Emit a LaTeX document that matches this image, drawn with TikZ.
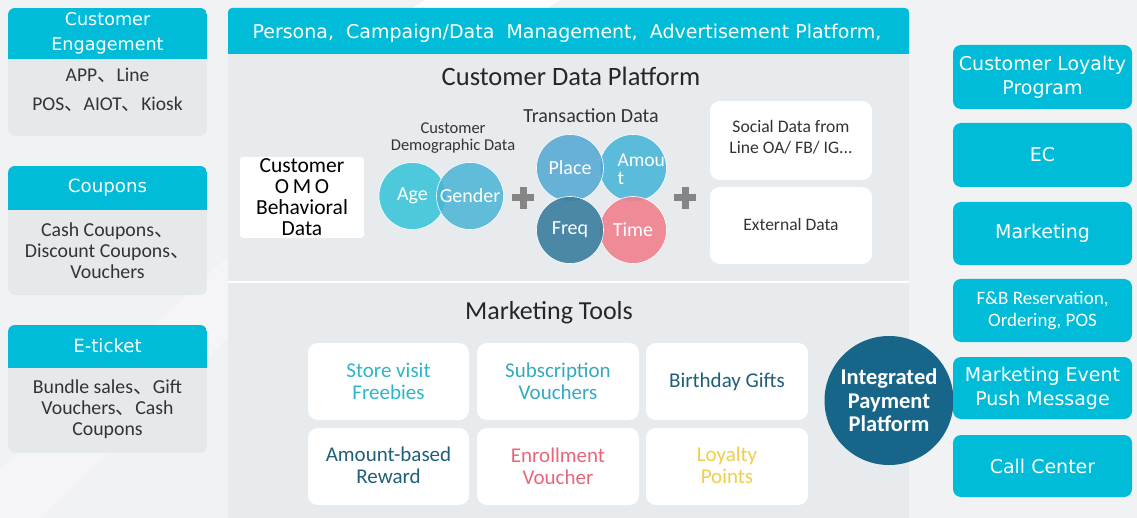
\documentclass[tikz,border=0pt]{standalone}
\usepackage{fontspec}
\setmainfont{Carlito}
\newfontfamily\dv{DejaVu Sans}
\newfontfamily\cjk{Noto Sans CJK SC}
\newcommand\dun{{\cjk 、}}
\newcommand\fsz[2]{\fontsize{#1}{#2}\selectfont}
\definecolor{cyanH}{HTML}{00BCD8}
\definecolor{bodyG}{HTML}{E6E9EC}
\definecolor{bgG}{HTML}{F1F2F4}
\definecolor{panelG}{HTML}{E8EBEE}
\definecolor{darkT}{HTML}{1F5F7A}
\definecolor{ippC}{HTML}{17668A}
\definecolor{txtG}{HTML}{333333}
\definecolor{cAge}{HTML}{3EC6DA}
\definecolor{cGen}{HTML}{4AB4D6}
\definecolor{cPla}{HTML}{5AAAD4}
\definecolor{cAmo}{HTML}{4CB6D8}
\definecolor{cFre}{HTML}{3A7E9F}
\definecolor{cTim}{HTML}{F0808E}
\definecolor{plusG}{HTML}{858585}
\definecolor{tCyan}{HTML}{2DB6C9}
\definecolor{tCyan2}{HTML}{35A8C2}
\definecolor{tPink}{HTML}{E8667A}
\definecolor{tYel}{HTML}{F0CE48}
\begin{document}
\begin{tikzpicture}[x=1pt,y=-1pt,
  lhead/.style={text=white,font=\dv\fsz{18.2}{25},align=center},
  lbody/.style={text=txtG,font=\fsz{19.8}{21},align=center},
  rbox/.style={fill=cyanH,rounded corners=8pt},
  rtext/.style={text=white,font=\dv\fsz{19}{24},align=center},
  wbox/.style={fill=white,rounded corners=10pt},
  circ/.style={circle,draw=white,line width=0.6pt,minimum size=67pt,inner sep=0pt,text=white,font=\fsz{20}{19},fill opacity=0.9,text opacity=1},
  tool/.style={font=\fsz{21}{22},align=center}
]
\useasboundingbox (0,0) rectangle (1137,518);
\fill[bgG] (0,0) rectangle (1137,518);
\fill[white,opacity=0.9] (425,0) -- (560,0) -- (548,8) -- (413,8) -- cycle;
\fill[white,opacity=0.3] (235,250) -- (235,330) -- (40,518) -- (0,518) -- (0,470) -- cycle;

% ---------- left boxes ----------
\begin{scope}
\clip[rounded corners=7pt] (8,8) rectangle (207,136);
\fill[bodyG] (8,8) rectangle (207,136);
\fill[cyanH] (8,8) rectangle (207,59);
\end{scope}
\node[lhead,font=\dv\fsz{17.6}{25}] (ce) at (107.5,33.5) {Customer\\Engagement};
\node[lbody,font=\fsz{19.5}{29}] (ceb) at (107.5,89.5) {APP\dun Line\\POS\dun AIOT\dun Kiosk};

\begin{scope}
\clip[rounded corners=7pt] (8,166) rectangle (207,295);
\fill[bodyG] (8,166) rectangle (207,295);
\fill[cyanH] (8,166) rectangle (207,210);
\end{scope}
\node[lhead] (cp) at (107.5,188) {Coupons};
\node[lbody] (cpb) at (107.5,251) {Cash Coupons\dun\\Discount Coupons\dun\\Vouchers};

\begin{scope}
\clip[rounded corners=7pt] (8,325) rectangle (207,453);
\fill[bodyG] (8,325) rectangle (207,453);
\fill[cyanH] (8,325) rectangle (207,368);
\end{scope}
\node[lhead] (et) at (107.5,346) {E-ticket};
\node[lbody] (etb) at (107.5,409.5) {Bundle sales\dun Gift\\Vouchers\dun Cash\\Coupons};

% ---------- central panel ----------
\fill[panelG] (228,54) rectangle (909,518);
\fill[cyanH,rounded corners=4pt] (228,54) -- (228,8) -- (909,8) -- (909,54) [sharp corners]-- cycle;
\fill[cyanH] (228,40) rectangle (909,54);
\draw[white,line width=1.2pt] (228,282) -- (909,282);
\node[text=white,font=\dv\fsz{19}{20}] (hdr) at (567,33) {Persona,\ \ Campaign/Data\ \ Management,\ \ Advertisement Platform,};

\node[font=\fsz{26.5}{28},text=black!85] (cdp) at (571,76) {Customer Data Platform};

\fill[white,rounded corners=3pt] (240,157) rectangle (364,238);
\node[font=\fsz{21.5}{21},align=center,text=black] (omo) at (302,197.5) {Customer\\O\,M\,O\\Behavioral\\Data};

\node[font=\fsz{16.5}{17},align=center,text=txtG] (demo) at (453,138.5) {Customer\\Demographic Data};
\node[circ,fill=cAge] (age) at (412.5,196) {Age};
\node[circ,fill=cGen,fill opacity=0.85] (gen) at (470,196) {};
\node[text=white,font=\fsz{20}{19}] (gent) at (470,196) {Gender};

\fill[plusG] (512,194.5) rectangle (534,201.5);
\fill[plusG] (519.5,187) rectangle (526.5,209);

\node[font=\fsz{20}{20},text=txtG] (trd) at (591,116) {Transaction Data};
\node[circ,fill=cAmo] (amo) at (633,168) {};
\node[circ,fill=cTim] (tim) at (633,230) {Time};
\node[circ,fill=cPla] (pla) at (570,168) {Place};
\node[circ,fill=cFre] (fre) at (570,230) {Freq};
\begin{scope}
\clip (633,168) circle (33.5);
\node[anchor=west,text=white,font=\fsz{19.5}{18},align=left] (amot) at (614,169) {Amoun\\t};
\end{scope}

\fill[plusG] (674,194.5) rectangle (696,201.5);
\fill[plusG] (681.5,187) rectangle (688.5,209);

\fill[wbox] (710,101) rectangle (872,180);
\node[font=\fsz{17.6}{21},align=center,text=txtG] (soc) at (791,137.5) {Social Data from\\Line OA/ FB/ IG...};
\fill[wbox] (710,187) rectangle (872,264);
\node[font=\fsz{17.5}{19},text=txtG] (ext) at (791,224) {External Data};

% ---------- marketing tools ----------
\node[font=\fsz{26}{28},text=black!85] (mt) at (549,313) {Marketing Tools};
\fill[wbox] (308,343) rectangle (469,420);
\fill[wbox] (477,343) rectangle (639,420);
\fill[wbox] (646,343) rectangle (808,420);
\fill[wbox] (308,428) rectangle (469,505);
\fill[wbox] (477,428) rectangle (639,505);
\fill[wbox] (646,428) rectangle (808,505);
\node[tool,text=tCyan] (t1) at (388.5,381.5) {Store visit\\Freebies};
\node[tool,text=tCyan2] (t2) at (558,381.5) {Subscription\\Vouchers};
\node[tool,text=darkT] (t3) at (727,382) {Birthday Gifts};
\node[tool,text=darkT] (t4) at (388.5,465) {Amount-based\\Reward};
\node[tool,text=tPink] (t5) at (558,466) {Enrollment\\Voucher};
\node[tool,text=tYel] (t6) at (727,465) {Loyalty\\Points};

\node[circle,fill=ippC,minimum size=129pt,inner sep=0pt,text=white,font=\bfseries\fsz{22.5}{23.5},align=center] (ipp) at (889,400.5) {Integrated\\Payment\\Platform};

% ---------- right boxes ----------
\fill[rbox] (953,45) rectangle (1132,109);
\node[rtext] (r1) at (1042.5,77) {Customer Loyalty\\Program};
\fill[rbox] (953,123) rectangle (1132,187);
\node[rtext] (r2) at (1042.5,155) {EC};
\fill[rbox] (953,202) rectangle (1132,265);
\node[rtext] (r3) at (1042.5,233) {Marketing};
\fill[rbox] (953,279) rectangle (1132,342);
\node[rtext,font=\fsz{19}{22}] (r4) at (1042.5,310.5) {F\&B Reservation,\\Ordering, POS};
\fill[rbox] (953,357) rectangle (1132,419);
\node[rtext] (r5) at (1042.5,388) {Marketing Event\\Push Message};
\fill[rbox] (953,435) rectangle (1132,497);
\node[rtext] (r6) at (1042.5,466) {Call Center};
\end{tikzpicture}
\end{document}
